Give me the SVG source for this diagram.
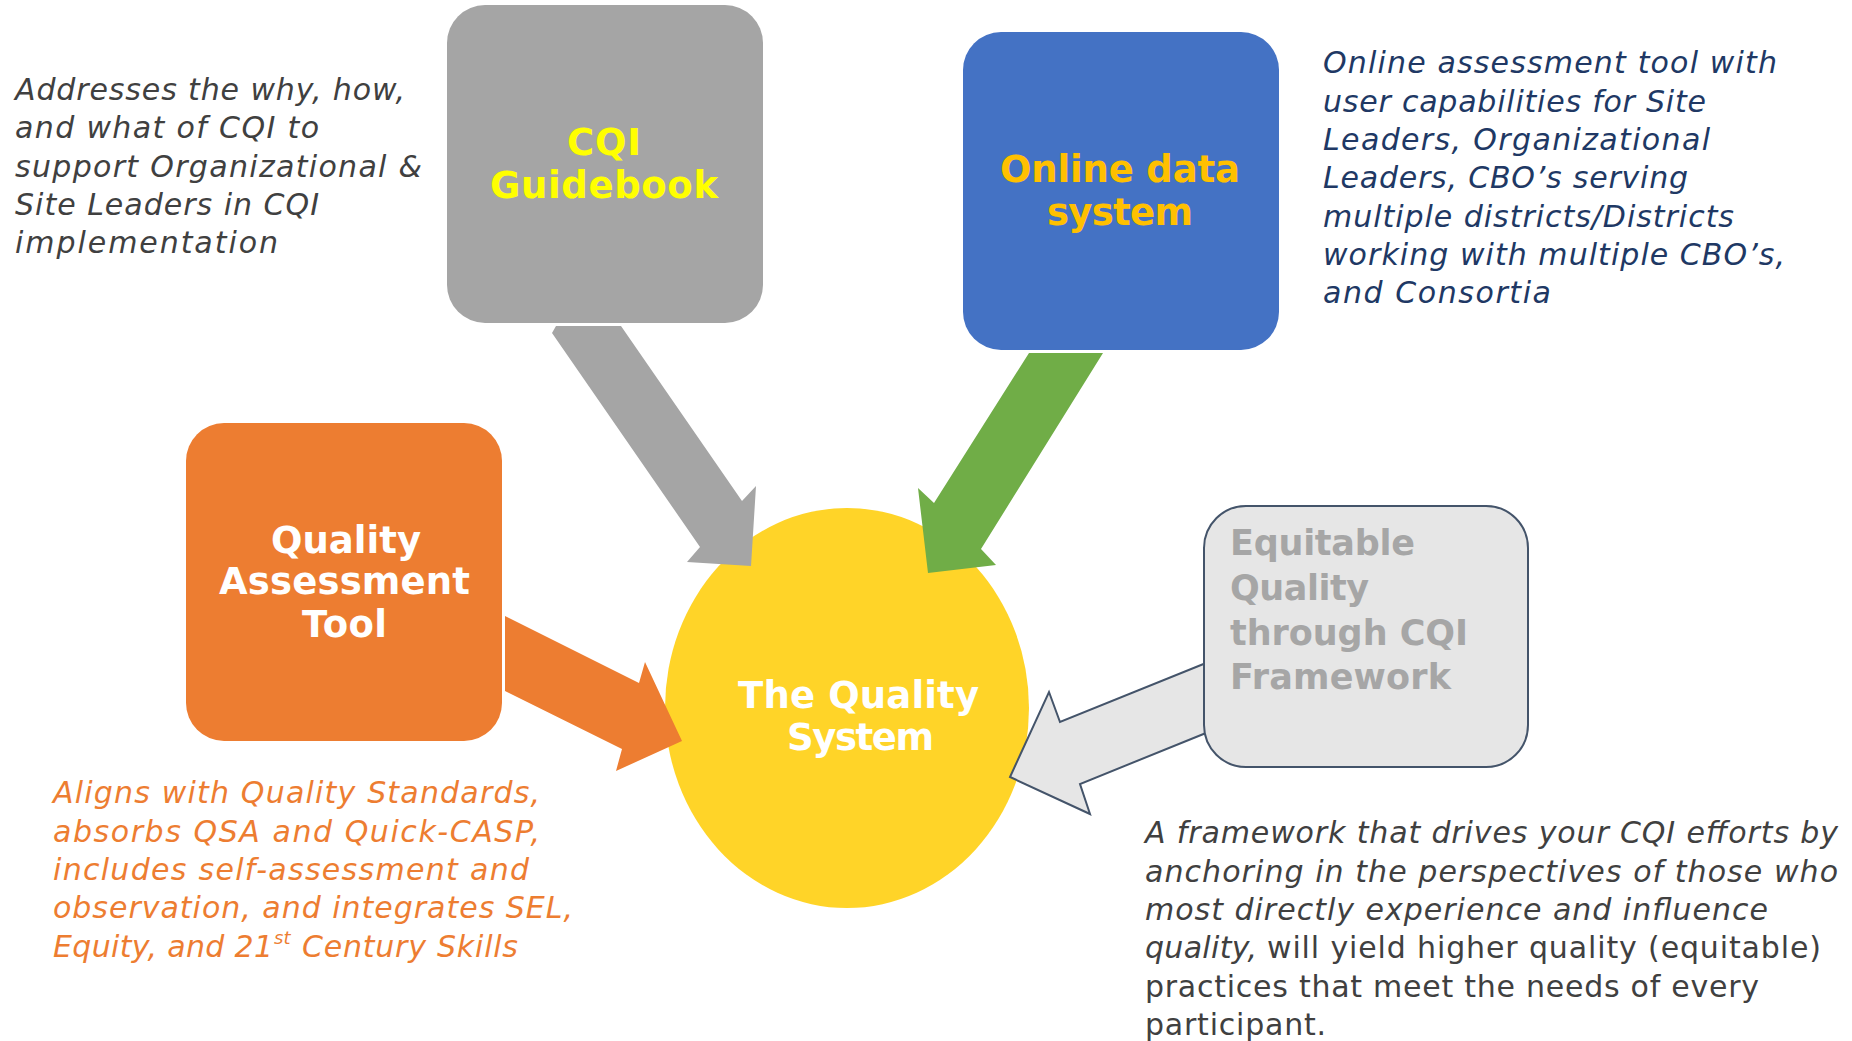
<svg xmlns="http://www.w3.org/2000/svg" width="1852" height="1041" viewBox="0 0 1852 1041">
<style>
.title{font-family:"DejaVu Sans","Open Sans",sans-serif;font-weight:700;font-size:37px}
.eq{font-family:"DejaVu Sans","Open Sans",sans-serif;font-weight:700;font-size:35px;fill:#A6A6A6}
.body{font-family:"DejaVu Sans","Open Sans",sans-serif;font-style:italic;font-size:30px}
.norm{font-family:"DejaVu Sans","Open Sans",sans-serif;font-style:normal;font-size:30px}
.dark{fill:#404040}
.navy{fill:#203864}
.orange{fill:#ED7D31}
</style>
<rect width="1852" height="1041" fill="#FFFFFF"/>

<g id="quality-system">
<ellipse cx="847" cy="708" rx="182" ry="200" fill="#FFD428"/>
<text class="title" fill="#FFFFFF" x="738" y="708" textLength="241" lengthAdjust="spacing">The Quality</text>
<text class="title" fill="#FFFFFF" x="787" y="750" textLength="147" lengthAdjust="spacing">System</text>
</g>

<g id="cqi-guidebook">
<rect x="447" y="5" width="316" height="318" rx="38" ry="38" fill="#A5A5A5"/>
<text class="title" fill="#FFFF00" x="567" y="155" textLength="74" lengthAdjust="spacing">CQI</text>
<text class="title" fill="#FFFF00" x="490" y="198" textLength="228" lengthAdjust="spacing">Guidebook</text>
</g>

<g id="online-data-system">
<rect x="963" y="32" width="316" height="318" rx="38" ry="38" fill="#4472C4"/>
<text class="title" fill="#FFC000" x="1000" y="182" textLength="240" lengthAdjust="spacing">Online data</text>
<text class="title" fill="#FFC000" x="1047" y="225" textLength="146" lengthAdjust="spacing">system</text>
</g>

<g id="quality-assessment-tool">
<rect x="186" y="423" width="316" height="318" rx="38" ry="38" fill="#ED7D31"/>
<text class="title" fill="#FFFFFF" x="271" y="553" textLength="150" lengthAdjust="spacing">Quality</text>
<text class="title" fill="#FFFFFF" x="219" y="594" textLength="251" lengthAdjust="spacing">Assessment</text>
<text class="title" fill="#FFFFFF" x="302" y="637" textLength="85" lengthAdjust="spacing">Tool</text>
</g>

<g id="connectors">
<polygon points="556,326 621,326 742,501 756,486 751,566 687,562 700,547 552,333" fill="#A5A5A5"/>
<polygon points="1029,353 1103,353 981,549 996,565 928,573 918,488 934,503" fill="#70AD47"/>
<polygon points="505,616 639,683 645,662 682,741 616,771 622,749 505,691" fill="#ED7D31"/>
<polygon points="1206,663 1060,722 1049,692 1010,777 1090,814 1080,784 1206,733" fill="#E6E6E6" stroke="#44546A" stroke-width="2" stroke-linejoin="miter"/>
</g>

<g id="equitable-quality">
<rect x="1204" y="506" width="324" height="261" rx="42" ry="42" fill="#E6E6E6" stroke="#44546A" stroke-width="2"/>
<text class="eq" x="1230" y="555" textLength="185" lengthAdjust="spacing">Equitable</text>
<text class="eq" x="1230" y="600" textLength="139" lengthAdjust="spacing">Quality</text>
<text class="eq" x="1230" y="645" textLength="238" lengthAdjust="spacing">through CQI</text>
<text class="eq" x="1230" y="689" textLength="221" lengthAdjust="spacing">Framework</text>
</g>

<g id="note-guidebook">
<text class="body dark" x="15" y="100" textLength="390" lengthAdjust="spacing">Addresses the why, how,</text>
<text class="body dark" x="15" y="138" textLength="304" lengthAdjust="spacing">and what of CQI to</text>
<text class="body dark" x="15" y="177" textLength="407" lengthAdjust="spacing">support Organizational &amp;</text>
<text class="body dark" x="15" y="215" textLength="304" lengthAdjust="spacing">Site Leaders in CQI</text>
<text class="body dark" x="15" y="253" textLength="263" lengthAdjust="spacing">implementation</text>
</g>

<g id="note-online">
<text class="body navy" x="1323" y="73" textLength="454" lengthAdjust="spacing">Online assessment tool with</text>
<text class="body navy" x="1323" y="112" textLength="383" lengthAdjust="spacing">user capabilities for Site</text>
<text class="body navy" x="1323" y="150" textLength="387" lengthAdjust="spacing">Leaders, Organizational</text>
<text class="body navy" x="1323" y="188" textLength="365" lengthAdjust="spacing">Leaders, CBO’s serving</text>
<text class="body navy" x="1323" y="227" textLength="411" lengthAdjust="spacing">multiple districts/Districts</text>
<text class="body navy" x="1323" y="265" textLength="462" lengthAdjust="spacing">working with multiple CBO’s,</text>
<text class="body navy" x="1323" y="303" textLength="228" lengthAdjust="spacing">and Consortia</text>
</g>

<g id="note-assessment">
<text class="body orange" x="53" y="803" textLength="487" lengthAdjust="spacing">Aligns with Quality Standards,</text>
<text class="body orange" x="53" y="842" textLength="487" lengthAdjust="spacing">absorbs QSA and Quick-CASP,</text>
<text class="body orange" x="53" y="880" textLength="476" lengthAdjust="spacing">includes self-assessment and</text>
<text class="body orange" x="53" y="918" textLength="520" lengthAdjust="spacing">observation, and integrates SEL,</text>
<text class="body orange" x="53" y="957" textLength="220" lengthAdjust="spacing">Equity, and 21</text>
<text class="body orange" x="274" y="944" style="font-size:18px">st</text>
<text class="body orange" x="302" y="957" textLength="216" lengthAdjust="spacing">Century Skills</text>
</g>

<g id="note-framework">
<text class="body dark" x="1145" y="843" textLength="693" lengthAdjust="spacing">A framework that drives your CQI efforts by</text>
<text class="body dark" x="1145" y="882" textLength="693" lengthAdjust="spacing">anchoring in the perspectives of those who</text>
<text class="body dark" x="1145" y="920" textLength="623" lengthAdjust="spacing">most directly experience and influence</text>
<text class="body dark" x="1145" y="958" textLength="112" lengthAdjust="spacing">quality,</text>
<text class="norm dark" x="1267" y="958" textLength="554" lengthAdjust="spacing">will yield higher quality (equitable)</text>
<text class="norm dark" x="1145" y="997" textLength="614" lengthAdjust="spacing">practices that meet the needs of every</text>
<text class="norm dark" x="1145" y="1035" textLength="181" lengthAdjust="spacing">participant.</text>
</g>
</svg>
